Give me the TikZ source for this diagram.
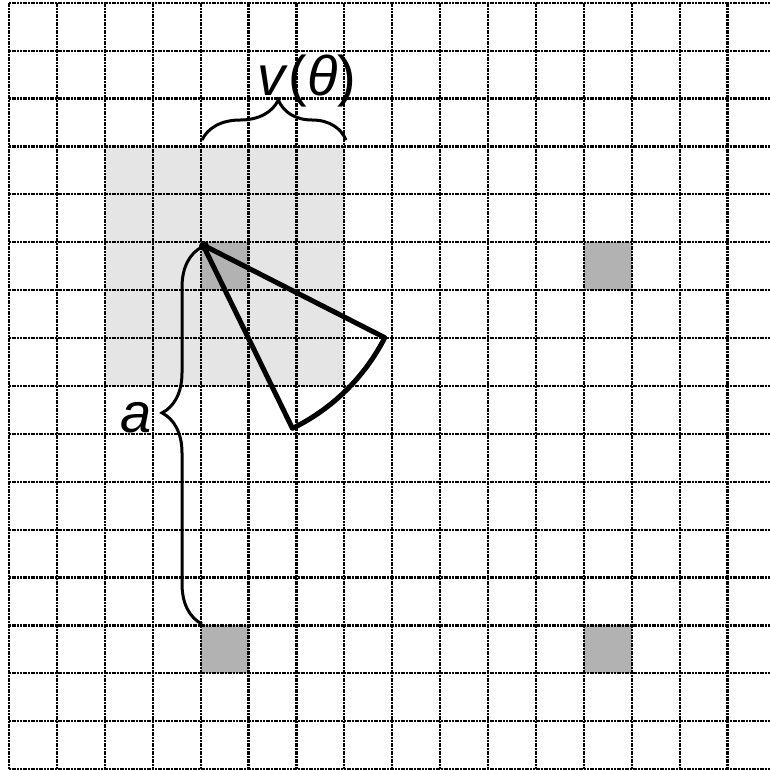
\documentclass[tikz,border=0pt]{standalone}
\usepackage{fontspec}
\setmainfont{Liberation Sans}
\usetikzlibrary{decorations.pathreplacing,calc}
\begin{document}
\begin{tikzpicture}[x=1pt,y=-1pt,
 gridline/.style={line width=2.2pt, dash pattern=on 2pt off 0.7pt},
 conestyle/.style={line width=5pt, line join=round},
 bracestyle/.style={line width=3pt, decorate, decoration={brace, amplitude=40pt, aspect=#1}},
 lightcell/.style={fill=black!10},
 darkcell/.style={fill=black!30},
 lbl/.style={font=\fontsize{56}{56}\selectfont, inner sep=0pt, anchor=base}]
\useasboundingbox (0,0) rectangle (770,769);
% shaded cells
\fill[lightcell] (104.8,146.4) rectangle (344.3,385.9);
\fill[darkcell] (200.6,242.2) rectangle (248.5,290.1);
\fill[darkcell] (583.8,242.2) rectangle (631.7,290.1);
\fill[darkcell] (200.6,625.4) rectangle (248.5,673.3);
\fill[darkcell] (583.8,625.4) rectangle (631.7,673.3);
% grid
\foreach \i in {0,...,15} \draw[gridline] ({9+47.9*\i},2.7) -- ({9+47.9*\i},769);
\foreach \j in {0,...,16} \draw[gridline] (9,{2.7+47.9*\j}) -- (770,{2.7+47.9*\j});
% cone
\coordinate (apex) at (203,245);
\draw[conestyle] (apex) -- ++(27:204) arc[start angle=27, end angle=64, radius=204] -- cycle;
\fill (apex) ++(1,1) circle (5);
% top brace
\coordinate (tb1) at (202,140);
\coordinate (tb2) at (346,140);
\draw[bracestyle=0.53] (tb1) -- (tb2);
\node[lbl] (vt) at (307,95) {\textit{v}(\textit{θ})};
% left brace
\coordinate (lb1) at (202,624);
\coordinate (lb2) at (202,247);
\draw[bracestyle=0.56] (lb1) -- (lb2);
\node[lbl] (a) at (136,432) {\textit{a}};
\end{tikzpicture}
\end{document}
